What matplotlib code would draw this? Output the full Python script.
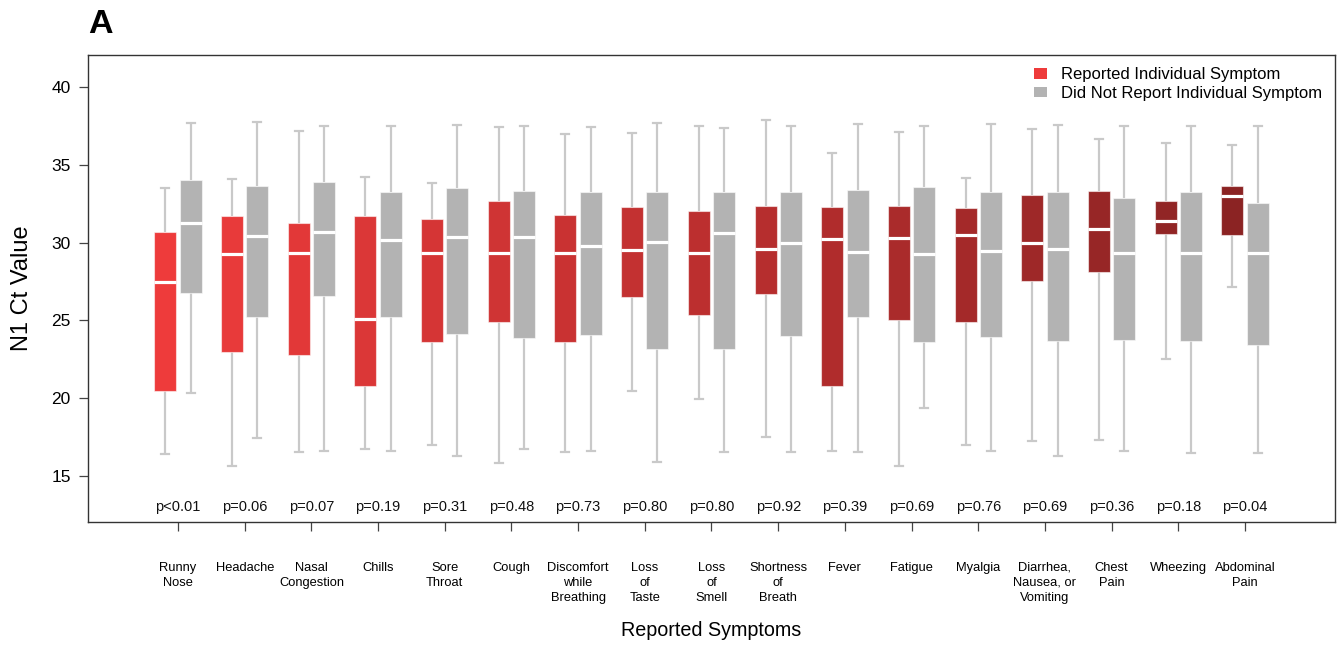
import numpy as np
import matplotlib
matplotlib.use("Agg")
import matplotlib.pyplot as plt
from matplotlib.patches import Patch
from matplotlib.colors import to_rgb, to_hex

plt.rcParams['font.family'] = ['Liberation Sans', 'DejaVu Sans']

# Symptom categories (bottom axis labels)
symptoms = ["Runny\nNose", "Headache", "Nasal\nCongestion", "Chills", "Sore\nThroat",
            "Cough", "Discomfort\nwhile\nBreathing", "Loss\nof\nTaste", "Loss\nof\nSmell",
            "Shortness\nof\nBreath", "Fever", "Fatigue", "Myalgia",
            "Diarrhea,\nNausea, or\nVomiting", "Chest\nPain", "Wheezing", "Abdominal\nPain"]

p_values = ["p<0.01", "p=0.06", "p=0.07", "p=0.19", "p=0.31", "p=0.48", "p=0.73",
            "p=0.80", "p=0.80", "p=0.92", "p=0.39", "p=0.69", "p=0.76", "p=0.69",
            "p=0.36", "p=0.18", "p=0.04"]

# Five-number summaries of N1 Ct for those reporting the symptom
rep_whislo = [16.4, 15.6, 16.5, 16.7, 17.0, 15.8, 16.55, 20.45, 19.95, 17.5, 16.6, 15.6, 17.0, 17.25, 17.3, 22.5, 27.15]
rep_q1     = [20.45, 22.98, 22.8, 20.77, 23.62, 24.91, 23.62, 26.5, 25.36, 26.69, 20.75, 25.02, 24.87, 27.55, 28.1, 30.53, 30.5]
rep_med    = [27.44, 29.28, 29.3, 25.08, 29.34, 29.34, 29.32, 29.5, 29.32, 29.56, 30.21, 30.27, 30.5, 29.95, 30.85, 31.36, 32.99]
rep_q3     = [30.65, 31.7, 31.25, 31.7, 31.49, 32.69, 31.77, 32.3, 32.01, 32.35, 32.26, 32.33, 32.2, 33.04, 33.29, 32.65, 33.65]
rep_whishi = [33.53, 34.08, 37.17, 34.21, 33.81, 37.41, 36.96, 37.06, 37.51, 37.88, 35.78, 37.09, 34.13, 37.28, 36.64, 36.4, 36.29]

# Five-number summaries for those not reporting the symptom
not_whislo = [20.32, 17.41, 16.59, 16.57, 16.29, 16.74, 16.57, 15.86, 16.55, 16.55, 16.55, 19.34, 16.57, 16.29, 16.57, 16.48, 16.48]
not_q1     = [26.73, 25.21, 26.58, 25.21, 24.14, 23.86, 24.05, 23.13, 23.13, 23.99, 25.19, 23.58, 23.92, 23.67, 23.73, 23.67, 23.39]
not_med    = [31.27, 30.4, 30.68, 30.18, 30.37, 30.37, 29.75, 30.05, 30.63, 29.95, 29.37, 29.28, 29.47, 29.56, 29.34, 29.34, 29.34]
not_q3     = [34.02, 33.65, 33.91, 33.23, 33.5, 33.29, 33.27, 33.27, 33.27, 33.27, 33.4, 33.57, 33.27, 33.27, 32.88, 33.27, 32.52]
not_whishi = [37.66, 37.73, 37.49, 37.51, 37.56, 37.49, 37.45, 37.71, 37.38, 37.47, 37.6, 37.49, 37.6, 37.58, 37.47, 37.51, 37.51]

n = len(symptoms)
pos = np.arange(1, n + 1)

# Red ramp from brown2 to brown4
c0, c1 = np.array(to_rgb("#EE3B3B")), np.array(to_rgb("#8B2323"))
reds = [to_hex(c0 + (c1 - c0) * t) for t in np.linspace(0, 1, n)]
gray_box = "#B3B3B3"
whisk_col = "#C9C9C9"


def make_stats(lo, q1, med, q3, hi):
    return [dict(whislo=a, q1=b, med=c, q3=d, whishi=e, fliers=[])
            for a, b, c, d, e in zip(lo, q1, med, q3, hi)]


W, H = 1341, 647
fig = plt.figure(figsize=(W / 100, H / 100), dpi=100)
ax = fig.add_axes([88 / W, 1 - 522 / H, (1335 - 88) / W, (522 - 55) / H])

offset = 0.19
width = 0.33
common = dict(widths=width, capwidths=0.12, patch_artist=True, showfliers=False,
              whiskerprops=dict(color=whisk_col, lw=1.6, solid_capstyle='butt'),
              capprops=dict(color=whisk_col, lw=1.6),
              medianprops=dict(color="white", lw=2.3, solid_capstyle='butt'),
              boxprops=dict(edgecolor=(1, 1, 1, 0.55), lw=0.8),
              manage_ticks=False, zorder=3)

b1 = ax.bxp(make_stats(rep_whislo, rep_q1, rep_med, rep_q3, rep_whishi),
            positions=pos - offset, **common)
b2 = ax.bxp(make_stats(not_whislo, not_q1, not_med, not_q3, not_whishi),
            positions=pos + offset, **common)
for patch, col in zip(b1['boxes'], reds):
    patch.set_facecolor(col)
for patch in b2['boxes']:
    patch.set_facecolor(gray_box)
for key in ('whiskers', 'caps'):
    for ln in b1[key] + b2[key]:
        ln.set_zorder(2)
for ln in b1['medians'] + b2['medians']:
    ln.set_zorder(4)

ax.set_xlim(1 - 1.35, n + 1.35)
ax.set_ylim(12.03, 42.06)

ax.set_yticks([15, 20, 25, 30, 35, 40])
ax.tick_params(axis='y', length=6.5, width=0.9, pad=6, labelsize=12.5, color="#444444")
ax.set_xticks(pos)
ax.set_xticklabels(symptoms, fontsize=9.3, linespacing=1.35, va='top')
ax.tick_params(axis='x', length=6.5, width=0.9, pad=22, color="#444444")

for sp in ax.spines.values():
    sp.set_color("#333333")
    sp.set_linewidth(1.0)

for x, p in zip(pos, p_values):
    ax.text(x, 13.0, p, ha='center', va='center', fontsize=10.5, color="#111111")

fig.text(22 / W, 1 - 288 / H, "N1 Ct Value", rotation=90, fontsize=17,
         ha='center', va='center')
fig.text(711 / W, 1 - 631 / H, "Reported Symptoms", fontsize=14.2,
         ha='center', va='center')

handles = [Patch(facecolor=reds[0], edgecolor='none', label="Reported Individual Symptom"),
           Patch(facecolor=gray_box, edgecolor='none', label="Did Not Report Individual Symptom")]
ax.legend(handles=handles, loc='upper right', bbox_to_anchor=(0.9975, 0.995),
          frameon=False, fontsize=12, handlelength=0.8, handleheight=0.6,
          handletextpad=0.8, labelspacing=0.2, borderaxespad=0.2)

fig.text(88 / W, 1 - 33 / H, "A", fontsize=24.5, fontweight='bold', va='baseline', ha='left')

fig.savefig("out.png", dpi=100)
